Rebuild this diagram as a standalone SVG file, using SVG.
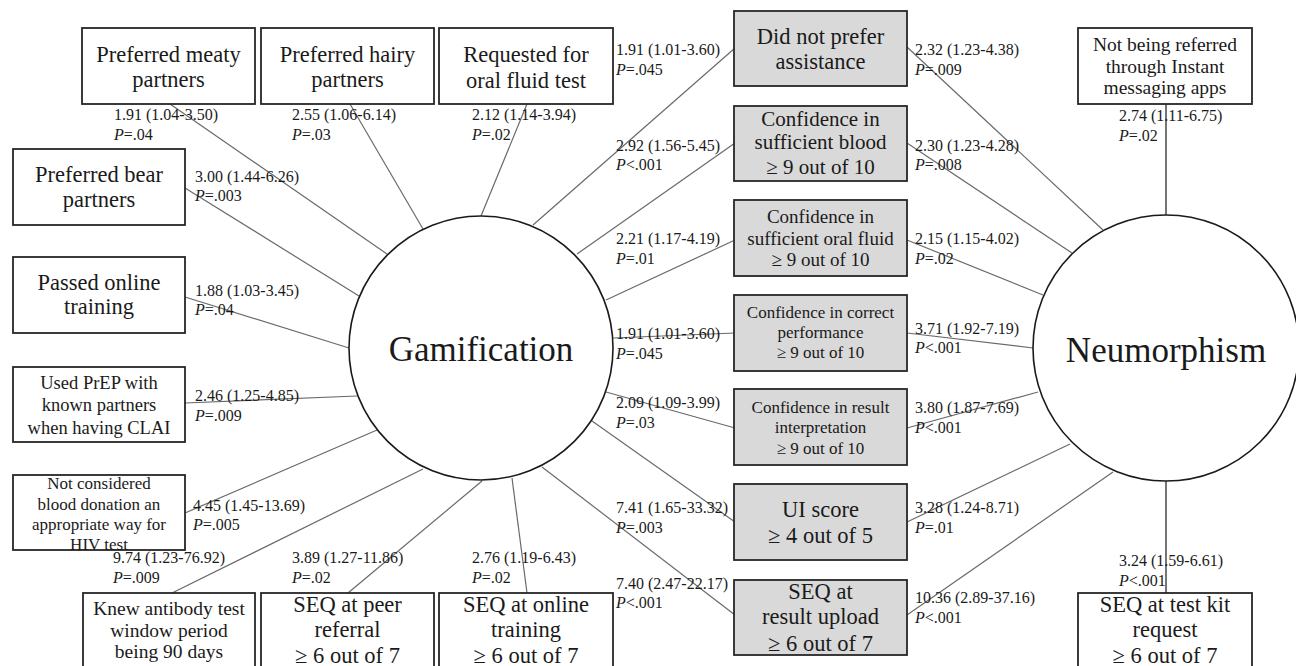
<svg xmlns="http://www.w3.org/2000/svg" width="1296" height="666" viewBox="0 0 1296 666">
<style>
text{font-family:"Liberation Serif","Times New Roman",serif;fill:#1a1a1a}
.box{fill:#fff;stroke:#262626;stroke-width:1.8}
.gbox{fill:#d9d9d9;stroke:#262626;stroke-width:1.8}
.hub{fill:#fff;stroke:#1a1a1a;stroke-width:1.6}
.ln{stroke:#6a6a6a;stroke-width:1.2;fill:none}
.lk{stroke:#1a1a1a;stroke-width:1.2;fill:none}
.lb{font-size:16px}
.c{text-anchor:middle}
.t225{font-size:22.5px}
.t21{font-size:21px}
.t195{font-size:19.5px}
.t19{font-size:19px}
.t185{font-size:18.5px}
.t17{font-size:17px}
.hubt{font-size:35px}
.i{font-style:italic}
</style>
<rect width="1296" height="666" fill="#fff"/>
<g id="connectors">
  <line class="ln" x1="170" y1="104" x2="387" y2="254"/>
  <line class="ln" x1="350" y1="104" x2="423" y2="229"/>
  <line class="ln" x1="527" y1="104" x2="481" y2="216"/>
  <line class="ln" x1="735" y1="48" x2="533" y2="225"/>
  <line class="ln" x1="735" y1="143" x2="577" y2="254"/>
  <line class="ln" x1="735" y1="240" x2="606" y2="300"/>
  <line class="ln" x1="735" y1="333" x2="613" y2="338"/>
  <line class="ln" x1="735" y1="428" x2="606" y2="392"/>
  <line class="ln" x1="735" y1="522" x2="592" y2="421"/>
  <line class="ln" x1="735" y1="615" x2="542" y2="467"/>
  <line class="ln" x1="527" y1="593" x2="512" y2="478"/>
  <line class="ln" x1="348" y1="593" x2="482" y2="481"/>
  <line class="ln" x1="172" y1="593" x2="423" y2="469"/>
  <line class="ln" x1="185" y1="513" x2="377" y2="430"/>
  <line class="ln" x1="185" y1="403" x2="357" y2="396"/>
  <line class="ln" x1="185" y1="297" x2="349" y2="348"/>
  <line class="ln" x1="185" y1="188" x2="359" y2="296"/>
  <line class="ln" x1="907" y1="47" x2="1103" y2="230"/>
  <line class="ln" x1="907" y1="143" x2="1072" y2="253"/>
  <line class="ln" x1="907" y1="240" x2="1043" y2="295"/>
  <line class="ln" x1="907" y1="333" x2="1033" y2="348"/>
  <line class="ln" x1="907" y1="428" x2="1038" y2="392"/>
  <line class="ln" x1="907" y1="522" x2="1070" y2="444"/>
  <line class="ln" x1="907" y1="615" x2="1113" y2="472"/>
  <line class="lk" x1="1166" y1="104" x2="1166" y2="215"/>
  <line class="lk" x1="1166" y1="481" x2="1166" y2="593"/>
  <g class="lb">
    <text x="114" y="120">1.91 (1.04-3.50)</text><text x="114" y="140"><tspan class="i">P</tspan>=.04</text>
    <text x="292" y="120">2.55 (1.06-6.14)</text><text x="292" y="140"><tspan class="i">P</tspan>=.03</text>
    <text x="472" y="120">2.12 (1.14-3.94)</text><text x="472" y="140"><tspan class="i">P</tspan>=.02</text>
    <text x="195" y="182">3.00 (1.44-6.26)</text><text x="195" y="201"><tspan class="i">P</tspan>=.003</text>
    <text x="195" y="296">1.88 (1.03-3.45)</text><text x="195" y="315"><tspan class="i">P</tspan>=.04</text>
    <text x="195" y="401">2.46 (1.25-4.85)</text><text x="195" y="421"><tspan class="i">P</tspan>=.009</text>
    <text x="193" y="511">4.45 (1.45-13.69)</text><text x="193" y="530"><tspan class="i">P</tspan>=.005</text>
    <text x="113" y="563">9.74 (1.23-76.92)</text><text x="113" y="583"><tspan class="i">P</tspan>=.009</text>
    <text x="292" y="563">3.89 (1.27-11.86)</text><text x="292" y="583"><tspan class="i">P</tspan>=.02</text>
    <text x="472" y="563">2.76 (1.19-6.43)</text><text x="472" y="583"><tspan class="i">P</tspan>=.02</text>
    <text x="616" y="55">1.91 (1.01-3.60)</text><text x="616" y="75"><tspan class="i">P</tspan>=.045</text>
    <text x="616" y="151">2.92 (1.56-5.45)</text><text x="616" y="170"><tspan class="i">P</tspan>&lt;.001</text>
    <text x="616" y="244">2.21 (1.17-4.19)</text><text x="616" y="264"><tspan class="i">P</tspan>=.01</text>
    <text x="616" y="339">1.91 (1.01-3.60)</text><text x="616" y="359"><tspan class="i">P</tspan>=.045</text>
    <text x="616" y="408">2.09 (1.09-3.99)</text><text x="616" y="428"><tspan class="i">P</tspan>=.03</text>
    <text x="616" y="513">7.41 (1.65-33.32)</text><text x="616" y="533"><tspan class="i">P</tspan>=.003</text>
    <text x="616" y="589">7.40 (2.47-22.17)</text><text x="616" y="608"><tspan class="i">P</tspan>&lt;.001</text>
    <text x="915" y="55">2.32 (1.23-4.38)</text><text x="915" y="75"><tspan class="i">P</tspan>=.009</text>
    <text x="915" y="151">2.30 (1.23-4.28)</text><text x="915" y="170"><tspan class="i">P</tspan>=.008</text>
    <text x="915" y="244">2.15 (1.15-4.02)</text><text x="915" y="264"><tspan class="i">P</tspan>=.02</text>
    <text x="915" y="334">3.71 (1.92-7.19)</text><text x="915" y="353"><tspan class="i">P</tspan>&lt;.001</text>
    <text x="915" y="413">3.80 (1.87-7.69)</text><text x="915" y="433"><tspan class="i">P</tspan>&lt;.001</text>
    <text x="915" y="513">3.28 (1.24-8.71)</text><text x="915" y="533"><tspan class="i">P</tspan>=.01</text>
    <text x="915" y="603">10.36 (2.89-37.16)</text><text x="915" y="623"><tspan class="i">P</tspan>&lt;.001</text>
    <text x="1119" y="121">2.74 (1.11-6.75)</text><text x="1119" y="141"><tspan class="i">P</tspan>=.02</text>
    <text x="1119" y="566">3.24 (1.59-6.61)</text><text x="1119" y="586"><tspan class="i">P</tspan>&lt;.001</text>
  </g>
</g>
<g id="gamification">
  <circle class="hub" cx="481" cy="348" r="132"/>
  <text class="hubt c" x="481" y="361">Gamification</text>
</g>
<g id="neumorphism">
  <circle class="hub" cx="1166" cy="348" r="133"/>
  <text class="hubt c" x="1166" y="362">Neumorphism</text>
</g>
<g id="meaty">
  <rect class="box" x="82" y="28" width="173" height="76"/>
  <text class="t225 c" x="168.5" y="62">Preferred meaty</text>
  <text class="t225 c" x="168.5" y="87">partners</text>
</g>
<g id="hairy">
  <rect class="box" x="261" y="28" width="173" height="76"/>
  <text class="t225 c" x="347.5" y="62">Preferred hairy</text>
  <text class="t225 c" x="347.5" y="87">partners</text>
</g>
<g id="oralrequest">
  <rect class="box" x="439" y="28" width="174" height="76"/>
  <text class="t225 c" x="526" y="62">Requested for</text>
  <text class="t225 c" x="526" y="88">oral fluid test</text>
</g>
<g id="bear">
  <rect class="box" x="13" y="149" width="172" height="76"/>
  <text class="t225 c" x="99" y="182">Preferred bear</text>
  <text class="t225 c" x="99" y="207">partners</text>
</g>
<g id="passed">
  <rect class="box" x="13" y="257" width="172" height="76"/>
  <text class="t225 c" x="99" y="290">Passed online</text>
  <text class="t225 c" x="99" y="314">training</text>
</g>
<g id="prep">
  <rect class="box" x="13" y="367" width="172" height="75"/>
  <text class="t185 c" x="99" y="389">Used PrEP with</text>
  <text class="t185 c" x="99" y="411">known partners</text>
  <text class="t185 c" x="99" y="434">when having CLAI</text>
</g>
<g id="blooddonation">
  <rect class="box" x="13" y="475" width="172" height="75"/>
  <text class="t17 c" x="99" y="489">Not considered</text>
  <text class="t17 c" x="99" y="510">blood donation an</text>
  <text class="t17 c" x="99" y="530">appropriate way for</text>
  <text class="t17 c" x="99" y="550">HIV test</text>
</g>
<g id="antibody">
  <rect class="box" x="83" y="593" width="172" height="76"/>
  <text class="t195 c" x="169" y="615">Knew antibody test</text>
  <text class="t195 c" x="169" y="637">window period</text>
  <text class="t195 c" x="169" y="658">being 90 days</text>
</g>
<g id="peerreferral">
  <rect class="box" x="261" y="593" width="173" height="76"/>
  <text class="t225 c" x="347.5" y="612">SEQ at peer</text>
  <text class="t225 c" x="347.5" y="637">referral</text>
  <text class="t225 c" x="347.5" y="663">≥ 6 out of 7</text>
</g>
<g id="onlinetraining">
  <rect class="box" x="439" y="593" width="174" height="76"/>
  <text class="t225 c" x="526" y="612">SEQ at online</text>
  <text class="t225 c" x="526" y="637">training</text>
  <text class="t225 c" x="526" y="663">≥ 6 out of 7</text>
</g>
<g id="assistance">
  <rect class="gbox" x="734" y="11" width="173" height="75"/>
  <text class="t225 c" x="820.5" y="44">Did not prefer</text>
  <text class="t225 c" x="820.5" y="69">assistance</text>
</g>
<g id="blood">
  <rect class="gbox" x="734" y="106" width="173" height="75"/>
  <text class="t21 c" x="820.5" y="126">Confidence in</text>
  <text class="t21 c" x="820.5" y="149">sufficient blood</text>
  <text class="t21 c" x="820.5" y="174">≥ 9 out of 10</text>
</g>
<g id="oralfluid">
  <rect class="gbox" x="734" y="200" width="173" height="76"/>
  <text class="t19 c" x="820.5" y="223">Confidence in</text>
  <text class="t19 c" x="820.5" y="245">sufficient oral fluid</text>
  <text class="t19 c" x="820.5" y="266">≥ 9 out of 10</text>
</g>
<g id="performance">
  <rect class="gbox" x="734" y="295" width="173" height="76"/>
  <text class="t17 c" x="820.5" y="318">Confidence in correct</text>
  <text class="t17 c" x="820.5" y="338">performance</text>
  <text class="t17 c" x="820.5" y="358">≥ 9 out of 10</text>
</g>
<g id="interpretation">
  <rect class="gbox" x="734" y="389" width="173" height="76"/>
  <text class="t17 c" x="820.5" y="413">Confidence in result</text>
  <text class="t17 c" x="820.5" y="433">interpretation</text>
  <text class="t17 c" x="820.5" y="454">≥ 9 out of 10</text>
</g>
<g id="uiscore">
  <rect class="gbox" x="734" y="484" width="173" height="76"/>
  <text class="t225 c" x="820.5" y="517">UI score</text>
  <text class="t225 c" x="820.5" y="543">≥ 4 out of 5</text>
</g>
<g id="resultupload">
  <rect class="gbox" x="734" y="580" width="173" height="75"/>
  <text class="t225 c" x="820.5" y="599">SEQ at</text>
  <text class="t225 c" x="820.5" y="624">result upload</text>
  <text class="t225 c" x="820.5" y="651">≥ 6 out of 7</text>
</g>
<g id="instantmessaging">
  <rect class="box" x="1078" y="28" width="174" height="76"/>
  <text class="t195 c" x="1165" y="51">Not being referred</text>
  <text class="t195 c" x="1165" y="73">through Instant</text>
  <text class="t195 c" x="1165" y="94">messaging apps</text>
</g>
<g id="testkit">
  <rect class="box" x="1078" y="593" width="174" height="76"/>
  <text class="t225 c" x="1165" y="612">SEQ at test kit</text>
  <text class="t225 c" x="1165" y="637">request</text>
  <text class="t225 c" x="1165" y="663">≥ 6 out of 7</text>
</g>
</svg>
